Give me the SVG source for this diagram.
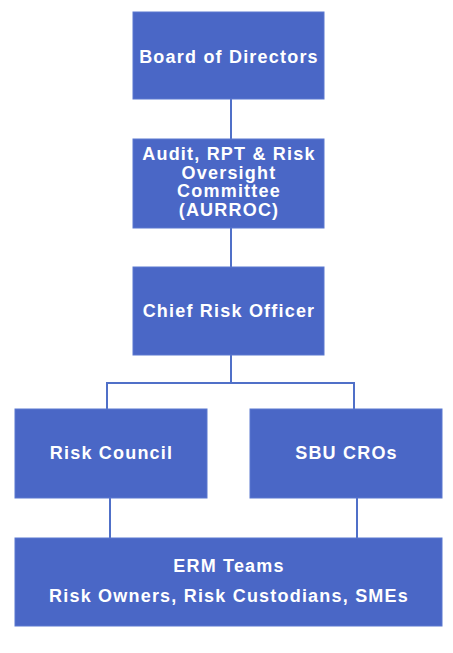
<svg xmlns="http://www.w3.org/2000/svg" width="453" height="653" viewBox="0 0 453 653">
<style>
.box{fill:#4A67C6;stroke:#5a78d0;stroke-width:1}
.t{font-family:"Liberation Sans",Arial,sans-serif;font-weight:bold;font-size:18px;letter-spacing:1.2px;fill:#ffffff;text-anchor:middle}
.c{stroke:#5070c8;stroke-width:2;fill:none}
</style>
<rect width="453" height="653" fill="#ffffff"/>
<g id="connectors">
<line class="c" x1="231" y1="99" x2="231" y2="139"/>
<line class="c" x1="231" y1="228" x2="231" y2="267"/>
<polyline class="c" points="231,355 231,383"/>
<polyline class="c" points="107,409 107,383 354,383 354,409"/>
<line class="c" x1="110" y1="498" x2="110" y2="538"/>
<line class="c" x1="357" y1="498" x2="357" y2="538"/>
</g>
<g id="board">
<rect class="box" x="133" y="12" width="191" height="87"/>
<text class="t" x="229" y="63">Board of Directors</text>
</g>
<g id="aurroc">
<rect class="box" x="133" y="139" width="191" height="89"/>
<text class="t" x="229" y="160">Audit, RPT &amp; Risk</text>
<text class="t" x="229" y="178.5">Oversight</text>
<text class="t" x="229" y="197">Committee</text>
<text class="t" x="229" y="215.5">(AURROC)</text>
</g>
<g id="cro">
<rect class="box" x="133" y="267" width="191" height="88"/>
<text class="t" x="229" y="316.5">Chief Risk Officer</text>
</g>
<g id="risk-council">
<rect class="box" x="15" y="409" width="192" height="89"/>
<text class="t" x="111.5" y="459">Risk Council</text>
</g>
<g id="sbu-cros">
<rect class="box" x="250" y="409" width="192" height="89"/>
<text class="t" x="346.5" y="459">SBU CROs</text>
</g>
<g id="erm">
<rect class="box" x="15" y="538" width="427" height="88"/>
<text class="t" x="229" y="572">ERM Teams</text>
<text class="t" x="229" y="602">Risk Owners, Risk Custodians, SMEs</text>
</g>
</svg>
